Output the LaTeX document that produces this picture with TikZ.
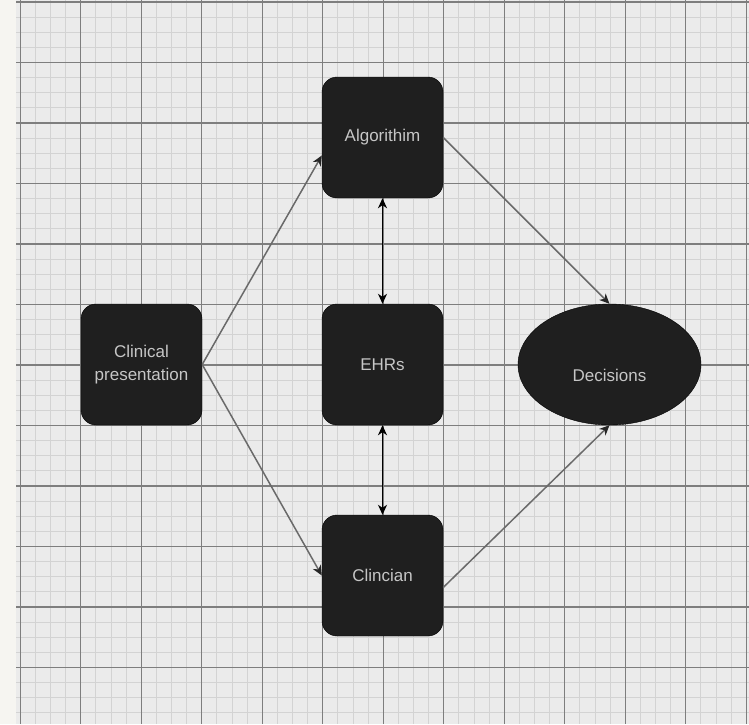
\documentclass[tikz,border=0pt]{standalone}
\usepackage{fontspec}
\setmainfont{Liberation Sans}
\usetikzlibrary{shapes.geometric,arrows.meta,calc}
\definecolor{paper}{HTML}{F6F5F1}
\definecolor{gridbg}{HTML}{EBEBEB}
\definecolor{gridminor}{HTML}{D3D3D3}
\definecolor{gridmajor}{HTML}{7E7E7E}
\definecolor{boxfill}{HTML}{1F1F1F}
\definecolor{boxtext}{HTML}{C6C6C6}
\definecolor{wire}{HTML}{6A6A6A}
\tikzset{
  boxfont/.style={font=\fontsize{17}{23}\selectfont},
  block/.style={draw=black, fill=boxfill, rounded corners=15pt,
    minimum width=121pt, minimum height=121pt, inner sep=0pt,
    text=boxtext, align=center, boxfont},
  oval/.style={ellipse, draw=black, fill=boxfill,
    minimum width=183pt, minimum height=121pt, inner sep=0pt},
  tip/.style={-{Stealth[length=10pt,width=9pt,inset=3pt,color=black!85]}},
  link/.style={draw=wire, line width=1.5pt, tip},
  dlink/.style={draw=black, line width=1.4pt,
    {Stealth[length=10pt,width=9pt,inset=3pt]}-{Stealth[length=10pt,width=9pt,inset=3pt]}}
}
\begin{document}
\begin{tikzpicture}[x=1pt,y=-1pt]
\useasboundingbox (0,0) rectangle (749,724);
% page and grid background
\fill[paper] (0,0) rectangle (749,724);
\fill[gridbg] (16,0) rectangle (749,724);
% minor grid
\foreach \i in {0,...,49} {
  \pgfmathsetmacro{\gx}{20.3+15.125*\i}
  \draw[gridminor, line width=1pt] (\gx,0) -- (\gx,724);
}
\foreach \i in {0,...,48} {
  \pgfmathsetmacro{\gy}{2+15.125*\i}
  \draw[gridminor, line width=1pt] (16,\gy) -- (749,\gy);
}
% major grid
\foreach \i in {0,...,12} {
  \pgfmathsetmacro{\gx}{20.3+60.5*\i}
  \draw[gridmajor, line width=1.1pt] (\gx,0) -- (\gx,724);
}
\foreach \i in {0,...,11} {
  \pgfmathsetmacro{\gy}{2+60.5*\i}
  \draw[gridmajor, line width=1.1pt] (16,\gy) -- (749,\gy);
}

% nodes
\node[block] (cp)   at (141.5,364.5) {Clinical\\presentation};
\node[block] (alg)  at (382.5,137.5) {Algorithim};
\node[block] (ehr)  at (382.5,364.5) {EHRs};
\node[block] (clin) at (382.5,575.5) {Clincian};
\node[oval, label={[text=boxtext, boxfont, yshift=-11pt]center:Decisions}]
  (dec) at (609.5,364.5) {};

% connectors
\draw[link] (cp.east) -- ($(alg.west)+(0,18)$);
\draw[link] (cp.east) -- (clin.west);
\draw[link] (alg.east) -- (dec.north);
\draw[link] ($(clin.east)+(0,12)$) -- (dec.south);
\draw[dlink] (alg.south) -- (ehr.north);
\draw[dlink] (ehr.south) -- (clin.north);
\end{tikzpicture}
\end{document}
